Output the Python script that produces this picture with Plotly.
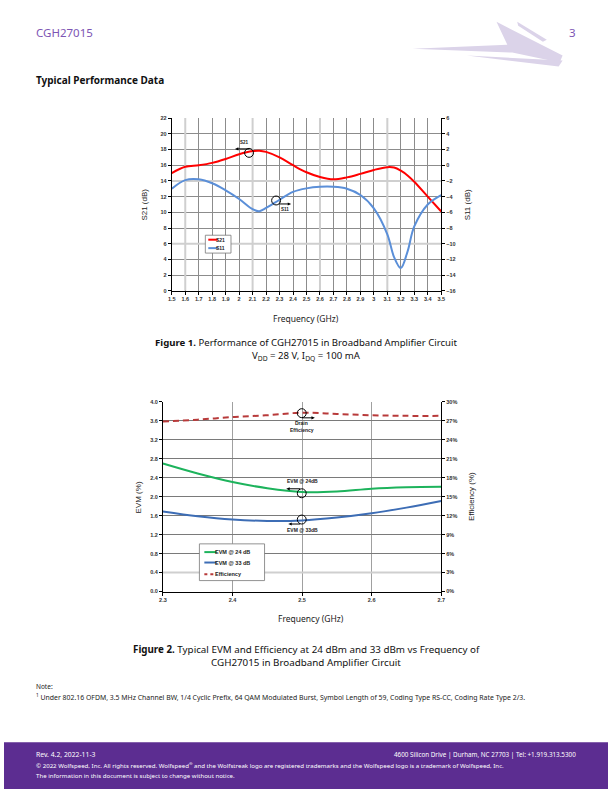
import numpy as np
import plotly.graph_objects as go

# ---------------- data ----------------
freq1 = [1.5, 1.6, 1.7, 1.8, 1.9, 2.0, 2.1, 2.15, 2.2, 2.3, 2.4, 2.5, 2.6, 2.7, 2.8, 2.9, 3.0, 3.1, 3.15, 3.2, 3.25, 3.3, 3.4, 3.5]
s21_db = [15.0, 15.8, 16.0, 16.3, 16.8, 17.4, 17.8, 17.85, 17.7, 17.0, 16.0, 15.1, 14.5, 14.2, 14.45, 14.9, 15.4, 15.75, 15.7, 15.3, 14.7, 13.9, 12.0, 10.1]
s11_db = [-3.0, -1.9, -1.8, -2.3, -3.2, -4.3, -5.6, -5.85, -5.45, -4.4, -3.4, -2.95, -2.75, -2.75, -3.0, -3.8, -5.5, -8.8, -11.7, -13.1, -11.0, -7.8, -5.0, -3.8]
f1_ticks = [1.5, 1.6, 1.7, 1.8, 1.9, 2.0, 2.1, 2.2, 2.3, 2.4, 2.5, 2.6, 2.7, 2.8, 2.9, 3.0, 3.1, 3.2, 3.3, 3.4, 3.5]
f1_ticktext = ["1.5", "1.6", "1.7", "1.8", "1.9", "2", "2.1", "2.2", "2.3", "2.4", "2.5", "2.6", "2.7", "2.8", "2.9", "3", "3.1", "3.2", "3.3", "3.4", "3.5"]

freq2 = [2.3, 2.35, 2.4, 2.45, 2.5, 2.55, 2.6, 2.65, 2.7]
evm_24 = [2.70, 2.49, 2.31, 2.18, 2.10, 2.11, 2.17, 2.20, 2.21]
evm_33 = [1.69, 1.59, 1.52, 1.49, 1.50, 1.56, 1.65, 1.77, 1.91]
eff_pct = [26.9, 27.2, 27.6, 27.9, 28.3, 28.1, 27.9, 27.8, 27.8]
f2_ticks = [2.3, 2.4, 2.5, 2.6, 2.7]

W, H = 612, 792
def px(x):
    return x / W
def py(y):
    return 1 - y / H

PURPLE = "#5C2D91"
DOC_FONT = "Noto Sans"
CH_FONT = "Liberation Sans"
GRID = "#8c8c8c"
LOGO = "#DBD3E9"
tickfont = dict(family=CH_FONT, size=5.5, color="#333333", weight="bold")

fig = go.Figure()

# Figure 1 traces
fig.add_trace(go.Scatter(x=freq1, y=s21_db, mode="lines", name="S21",
                         line=dict(color="#FF0000", width=2, shape="spline"),
                         xaxis="x", yaxis="y", showlegend=False))
fig.add_trace(go.Scatter(x=freq1, y=s11_db, mode="lines", name="S11",
                         line=dict(color="#5B8FD8", width=2, shape="spline"),
                         xaxis="x", yaxis="y2", showlegend=False))
# Figure 2 traces
fig.add_trace(go.Scatter(x=freq2, y=evm_24, mode="lines", name="EVM @ 24 dB",
                         line=dict(color="#1DB35C", width=2, shape="spline"),
                         xaxis="x2", yaxis="y3", showlegend=False))
fig.add_trace(go.Scatter(x=freq2, y=evm_33, mode="lines", name="EVM @ 33 dB",
                         line=dict(color="#3D6DB5", width=2, shape="spline"),
                         xaxis="x2", yaxis="y3", showlegend=False))
fig.add_trace(go.Scatter(x=freq2, y=eff_pct, mode="lines", name="Efficiency",
                         line=dict(color="#B83A3A", width=2, dash="6px,4px", shape="spline"),
                         xaxis="x2", yaxis="y4", showlegend=False))

ax_common = dict(showline=True, linecolor="black", linewidth=1, ticks="outside",
                 ticklen=3, tickcolor="black", tickfont=tickfont, zeroline=False,
                 fixedrange=True)

fig.update_layout(
    width=W, height=H, margin=dict(l=0, r=0, t=0, b=0),
    paper_bgcolor="white", plot_bgcolor="white", showlegend=False,
    xaxis=dict(domain=[px(170), px(443)], anchor="y", range=[1.5, 3.5],
               tickvals=f1_ticks, ticktext=f1_ticktext, showgrid=True,
               gridcolor=GRID, gridwidth=1, **ax_common),
    yaxis=dict(domain=[py(290), py(116)], anchor="x", range=[0, 22], dtick=2,
               showgrid=True, gridcolor=GRID, gridwidth=1, **ax_common),
    yaxis2=dict(overlaying="y", side="right", anchor="x", range=[-16, 6], dtick=2,
                showgrid=False, **ax_common),
    xaxis2=dict(domain=[px(161), px(443)], anchor="y3", range=[2.3, 2.7],
                tickvals=f2_ticks, tickformat=".1f", showgrid=True,
                gridcolor="#a0a0a0", gridwidth=1, **ax_common),
    yaxis3=dict(domain=[py(593), py(402)], anchor="x2", range=[0, 4], dtick=0.4,
                tickformat=".1f", showgrid=True, gridcolor="#7a7a7a", gridwidth=1,
                **ax_common),
    yaxis4=dict(overlaying="y3", side="right", anchor="x2", range=[0, 30], dtick=3,
                ticksuffix="%", showgrid=False, **ax_common),
)

shapes = []
# light grid artifacts (as in the reference rendering)
for xv in [1.6, 2.1, 2.6, 3.1]:
    shapes.append(dict(type="line", xref="x", yref="y", x0=xv, x1=xv, y0=0, y1=22,
                       line=dict(color="#cfcfcf", width=2), layer="between"))
for yv in [6, 14]:
    shapes.append(dict(type="line", xref="x", yref="y", x0=1.5, x1=3.5, y0=yv, y1=yv,
                       line=dict(color="#cfcfcf", width=2), layer="between"))
shapes.append(dict(type="line", xref="x2", yref="y3", x0=2.3, x1=2.7, y0=0.4, y1=0.4,
                   line=dict(color="#cfcfcf", width=2), layer="between"))

# header logo streak
def poly(pts):
    p = "M " + " L ".join("%f,%f" % (px(a), py(b)) for a, b in pts) + " Z"
    return dict(type="path", xref="paper", yref="paper", path=p,
                fillcolor=LOGO, line=dict(width=0))
shapes.append(poly([(414, 46), (510, 42), (499, 19), (566, 53), (563, 60), (515, 50)]))
shapes.append(poly([(469, 53), (566, 58), (562, 64)]))
shapes.append(poly([(520, 19), (550, 37), (546, 39), (521, 23)]))

# footer band
shapes.append(dict(type="rect", xref="paper", yref="paper", x0=0, x1=1, y0=0, y1=py(745),
                   fillcolor=PURPLE, line=dict(width=0)))

# callout circles
def circ(cx, cy, r=4.5):
    return dict(type="circle", xref="paper", yref="paper",
                x0=px(cx - r), x1=px(cx + r), y0=py(cy + r), y1=py(cy - r),
                line=dict(color="black", width=1), fillcolor="rgba(0,0,0,0)")
shapes += [circ(248.3, 151), circ(275.7, 199), circ(301.7, 413.3),
           circ(301.7, 494), circ(301.7, 520.5)]

# callout arrows (line + small triangular head)
def arrow(x_head, y_head, x_tail, y_tail):
    d = 1 if x_head > x_tail else -1
    out = [dict(type="line", xref="paper", yref="paper",
                x0=px(x_tail), y0=py(y_tail), x1=px(x_head - d * 2), y1=py(y_head),
                line=dict(color="black", width=1))]
    tri = "M %f,%f L %f,%f L %f,%f Z" % (
        px(x_head), py(y_head), px(x_head - d * 3.5), py(y_head - 1.6),
        px(x_head - d * 3.5), py(y_head + 1.6))
    out.append(dict(type="path", xref="paper", yref="paper", path=tri,
                    fillcolor="black", line=dict(width=0)))
    return out

shapes += arrow(234, 147, 248, 147)
shapes += arrow(291, 202.5, 279, 202.5)
shapes += arrow(315, 418, 302, 418)
shapes += arrow(286, 489.5, 300, 489.5)
shapes += arrow(288, 525, 300, 525)

# manual legends
def legend_box(x0, y0, x1, y1):
    return dict(type="rect", xref="paper", yref="paper", x0=px(x0), x1=px(x1),
                y0=py(y1), y1=py(y0), fillcolor="white",
                line=dict(color="#777777", width=0.8), layer="above")
def leg_line(x0, x1, y, color, dash="solid"):
    return dict(type="line", xref="paper", yref="paper", x0=px(x0), x1=px(x1),
                y0=py(y), y1=py(y), line=dict(color=color, width=2, dash=dash), layer="above")
shapes += [legend_box(204, 234, 230, 252),
           leg_line(207, 216.5, 238.5, "#FF0000"),
           leg_line(207, 216.5, 247, "#5B8FD8"),
           legend_box(198, 545, 264, 582),
           leg_line(203, 215.5, 553.3, "#1DB35C"),
           leg_line(203, 215.5, 563.8, "#3D6DB5"),
           leg_line(203, 215.5, 575.7, "#B83A3A", dash="3px,3px")]

fig.update_layout(shapes=shapes)

ann = []
PAD = 4.5  # compensation for annotation box padding
def text(x, y, s, size, family=DOC_FONT, color="#111111", xanchor="left",
         angle=0, weight="normal"):
    if xanchor == "left":
        x -= PAD
    elif xanchor == "right":
        x += PAD
    ann.append(dict(x=px(x), y=py(y), xref="paper", yref="paper", text=s,
                    showarrow=False, xanchor=xanchor, yanchor="middle",
                    textangle=angle, borderpad=0,
                    font=dict(family=family, size=size, color=color, weight=weight)))

# header
text(36, 30, "CGH27015", 11.5, color="#7D55B4")
text(576, 30, "3", 11.5, color="#7D55B4", xanchor="right")
text(36, 78, "Typical Performance Data", 10, color="#111111", weight="bold")

# figure 1 labels
text(142, 203, "S21 (dB)", 8, family=CH_FONT, color="#222222", xanchor="center", angle=-90)
text(470, 203, "S11 (dB)", 8, family=CH_FONT, color="#222222", xanchor="center", angle=-90)
text(306, 318, "Frequency (GHz)", 8.5, color="#222222", xanchor="center")
text(244, 141, "S21", 4.5, family=CH_FONT, color="#222222", xanchor="center", weight="bold")
text(285, 208, "S11", 4.5, family=CH_FONT, color="#222222", xanchor="center", weight="bold")
text(218.5, 238.5, "S21", 5, family=CH_FONT, color="#222222", weight="bold")
text(218.5, 247, "S11", 5, family=CH_FONT, color="#222222", weight="bold")
text(306, 342, "<b>Figure 1.</b> Performance of CGH27015 in Broadband Amplifier Circuit",
     9.6, xanchor="center")
text(306, 356, "V<sub>DD</sub> = 28 V, I<sub>DQ</sub> = 100 mA", 9.6, xanchor="center")

# figure 2 labels
text(136, 498, "EVM (%)", 8, family=CH_FONT, color="#222222", xanchor="center", angle=-90)
text(473, 497, "Efficiency (%)", 8, family=CH_FONT, color="#222222", xanchor="center", angle=-90)
text(311, 620, "Frequency (GHz)", 8.5, color="#222222", xanchor="center")
text(301.5, 423, "Drain", 5, family=CH_FONT, color="#222222", xanchor="center", weight="bold")
text(301.5, 430, "Efficiency", 5, family=CH_FONT, color="#222222", xanchor="center", weight="bold")
text(302, 481.5, "EVM @ 24dB", 5, family=CH_FONT, color="#222222", xanchor="center", weight="bold")
text(302, 531, "EVM @ 33dB", 5, family=CH_FONT, color="#222222", xanchor="center", weight="bold")
text(217.5, 553.3, "EVM @ 24 dB", 5.5, family=CH_FONT, color="#222222", weight="bold")
text(217.5, 563.8, "EVM @ 33 dB", 5.5, family=CH_FONT, color="#222222", weight="bold")
text(217.5, 575.7, "Efficiency", 5.5, family=CH_FONT, color="#222222", weight="bold")
text(306, 651, "<b>Figure 2.</b> Typical EVM and Efficiency at 24 dBm and 33 dBm vs Frequency of",
     9.8, xanchor="center")
text(306, 665, "CGH27015 in Broadband Amplifier Circuit", 9.8, xanchor="center")

# note
text(36, 689, "Note:", 6.5, color="#222222")
text(36, 699, "<sup>1</sup> Under 802.16 OFDM, 3.5 MHz Channel BW, 1/4 Cyclic Prefix, 64 QAM Modulated Burst, "
     "Symbol Length of 59, Coding Type RS-CC, Coding Rate Type 2/3.", 6.9, color="#222222")

# footer
text(36, 757, "Rev. 4.2, 2022-11-3", 6.8, color="white")
text(576, 757, "4600 Silicon Drive | Durham, NC 27703 | Tel: +1.919.313.5300", 6.3,
     color="white", xanchor="right")
text(36, 768, "© 2022 Wolfspeed, Inc. All rights reserved. Wolfspeed<sup>®</sup> and the Wolfstreak logo are "
     "registered trademarks and the Wolfspeed logo is a trademark of Wolfspeed, Inc.", 6.1, color="white")
text(36, 778, "The information in this document is subject to change without notice.", 6.1, color="white")

fig.update_layout(annotations=ann)
fig.write_html("out.html", config={"displayModeBar": False},
               post_script="document.body.style.margin='0';document.body.style.overflow='hidden';")
